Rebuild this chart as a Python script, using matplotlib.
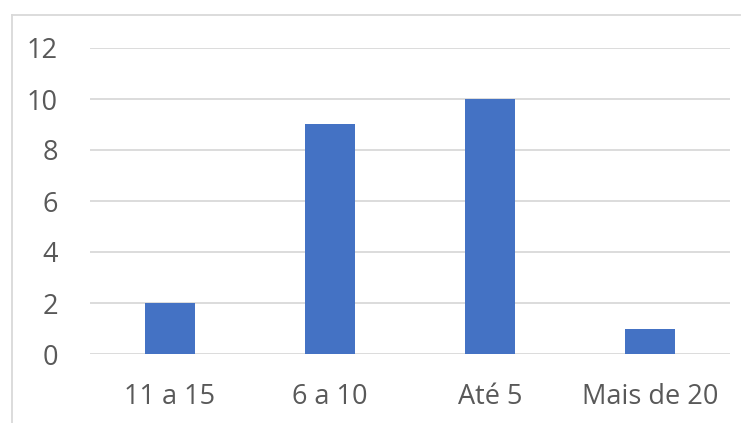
import matplotlib
matplotlib.use("Agg")
import matplotlib.pyplot as plt
from matplotlib.lines import Line2D

categorias = ["11 a 15", "6 a 10", "Até 5", "Mais de 20"]
valores = [2, 9, 10, 1]
yticks = [0, 2, 4, 6, 8, 10, 12]

plt.rcParams['font.family'] = ['Open Sans', 'DejaVu Sans']

fig = plt.figure(figsize=(7.46, 4.23), dpi=100)
ax = fig.add_axes([90/746, 69/423, 640/746, 306/423])

x = range(len(categorias))
ax.bar(x, valores, width=0.3125, color="#4472c4", zorder=3)

ax.set_xlim(-0.5, len(categorias) - 0.5)
ax.set_ylim(0, 12)
ax.set_yticks(yticks)
ax.set_xticks(list(x))
ax.set_xticklabels(categorias)
ax.grid(axis="y", color="#d9d9d9", linewidth=1.3, zorder=0)
ax.tick_params(axis="both", length=0, labelsize=19.5, labelcolor="#595959")
ax.tick_params(axis="y", pad=23)
ax.tick_params(axis="x", pad=21)
for s in ax.spines.values():
    s.set_visible(False)

# chart border (left and top)
fig.add_artist(Line2D([11.5/746, 11.5/746], [0, 1 - 15.5/423], color="#d9d9d9", linewidth=1.3))
fig.add_artist(Line2D([11.5/746, 740/746], [1 - 15.5/423, 1 - 15.5/423], color="#d9d9d9", linewidth=1.3))

fig.savefig("out.png", dpi=100)
